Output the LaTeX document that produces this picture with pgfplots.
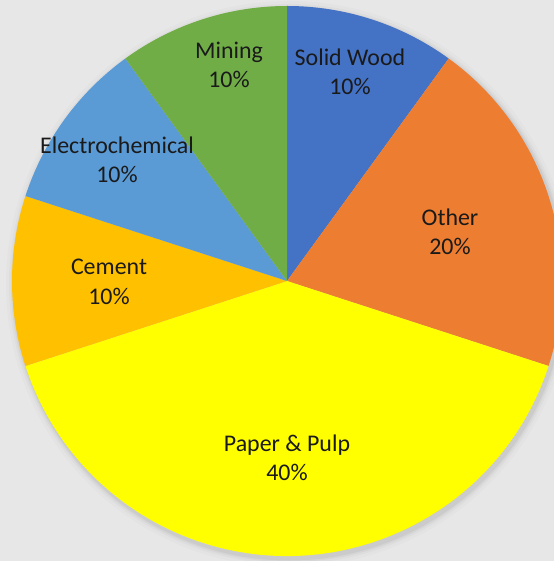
\documentclass[border=0pt]{standalone}
\usepackage{pgfplots}
\pgfplotsset{compat=1.18}
\usepackage{fontspec}
\setmainfont{Carlito}
\definecolor{bgc}{HTML}{E8E7E7}
\definecolor{swood}{HTML}{4472C4}
\definecolor{other}{HTML}{ED7D31}
\definecolor{paper}{HTML}{FFFF00}
\definecolor{cement}{HTML}{FFC000}
\definecolor{electro}{HTML}{5B9BD5}
\definecolor{mining}{HTML}{70AD47}
\definecolor{txt}{HTML}{1A1A1A}
\begin{document}
\begin{tikzpicture}
\begin{axis}[x=1bp,y=1bp,xmin=-287,xmax=267,ymin=-280,ymax=281,
  hide axis,scale only axis,clip=true]
\pgfplotsextra{
  \fill[bgc] (axis cs:-287,-280) rectangle (axis cs:267,281);
  \foreach \r/\o in {283/0.015,280/0.025,278/0.035,276.5/0.045} {
    \fill[black,opacity=\o] (axis cs:2,-3) circle[radius=\r bp];
  }
  \gdef\cum{0}
  \foreach \v/\c in {10/swood,20/other,40/paper,10/cement,10/electro,10/mining} {
    \pgfmathsetmacro\a{90-3.6*\cum}
    \pgfmathsetmacro\b{\a-3.6*\v}
    \fill[\c] (axis cs:0,0) -- (axis cs:{275*cos(\a)},{275*sin(\a)})
      arc[start angle=\a, end angle=\b, radius=275bp] -- cycle;
    \pgfmathsetmacro\nc{\cum+\v}
    \xdef\cum{\nc}
  }
  \foreach \v/\lx/\ly/\name in {
      10/63/209/Solid Wood,
      20/163/49/Other,
      40/0/-177/Paper \& Pulp,
      10/-178/-1/Cement,
      10/-170/121/Electrochemical,
      10/-58/216/Mining} {
    \node[align=center,text=txt,font=\fontsize{24}{29.5}\selectfont,inner sep=0pt]
      at (axis cs:\lx,\ly) {\name\\\v\%};
  }
}
\end{axis}
\end{tikzpicture}
\end{document}
